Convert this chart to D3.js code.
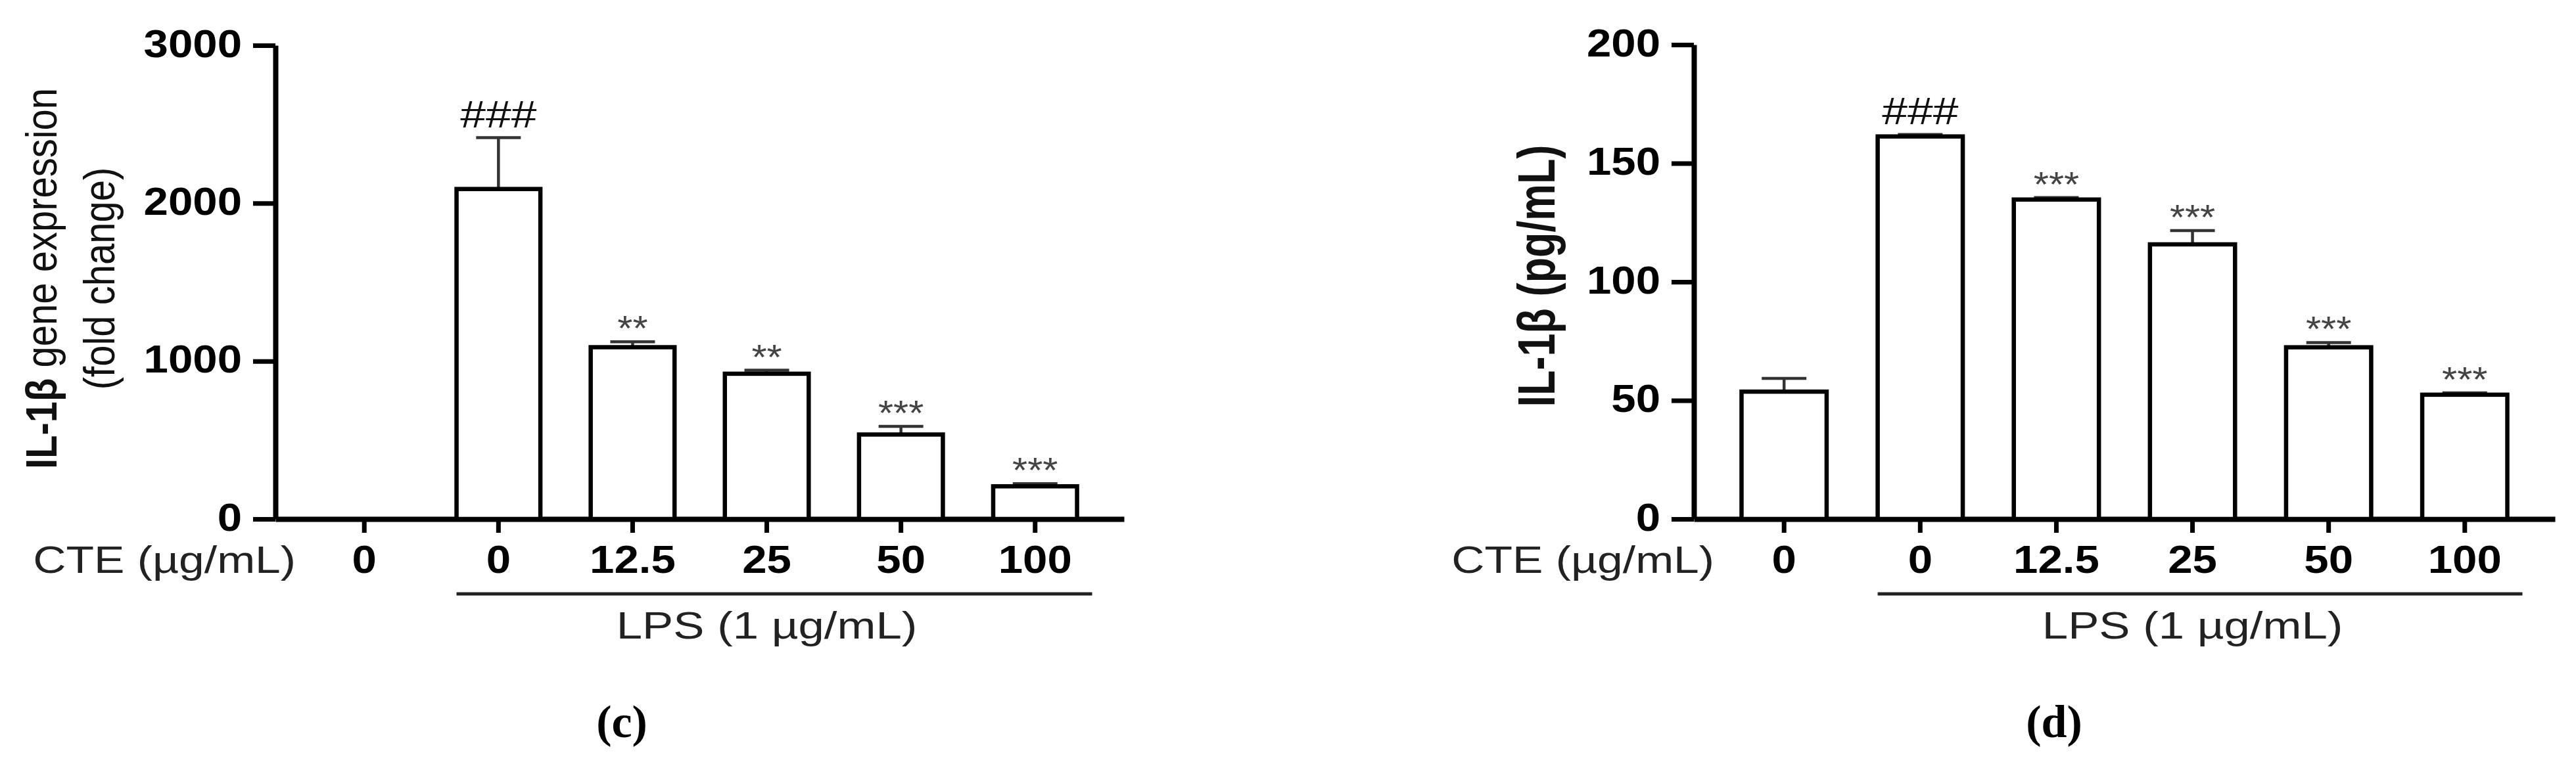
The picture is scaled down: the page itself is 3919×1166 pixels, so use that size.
<!DOCTYPE html>
<html>
<head>
<meta charset="utf-8">
<script src="https://cdn.jsdelivr.net/npm/d3@7"></script>
<style>
  body { margin: 0; background: #fff; }
  svg { display: block; font-family: "Liberation Sans", Arial, sans-serif; }
</style>
</head>
<body>
<svg id="chart" width="3919" height="1166"></svg>
<script>
// Data
var doses = ["0", "0", "12.5", "25", "50", "100"];

var geneMean = [0, 2090, 1088, 920, 535, 207];
var geneErr = [0, 325, 34, 22, 52, 17];
var geneMarks = ["", "###", "**", "**", "***", "***"];
var geneTicks = [0, 1000, 2000, 3000];

var protMean = [53.7, 161.3, 134.7, 115.8, 72.4, 52.4];
var protErr = [5.6, 0.8, 0.8, 5.8, 2.0, 0.8];
var protMarks = ["", "###", "***", "***", "***", "***"];
var protTicks = [0, 50, 100, 150, 200];

var svg = d3.select('#chart');
var base = 790;      // y of the zero line

// the original figure is a bit stretched sideways, so text gets a scaleX
function stretched(sel, x, y, sx) {
  return sel.append('g').attr('transform', 'translate(' + x + ',' + y + ') scale(' + sx + ',1)');
}

function drawPanel(p) {
  var g = svg.append('g');

  var x = d3.scaleBand()
      .domain(d3.range(doses.length))
      .range([p.left, p.right])
      .paddingInner(0.375)
      .paddingOuter(0.35);

  var y = d3.scaleLinear()
      .domain([0, p.max])
      .range([base, p.top]);

  // y axis
  var ya = g.append('g')
      .attr('transform', 'translate(' + p.left + ',0)')
      .call(d3.axisLeft(y).tickValues(p.ticks).tickFormat(d3.format('d'))
        .tickSize(34).tickSizeOuter(0).tickPadding(0));
  ya.select('.domain').attr('stroke', '#000').attr('stroke-width', 8);
  ya.selectAll('.tick line').attr('stroke', '#000').attr('stroke-width', 7);
  ya.selectAll('.tick text')
      .attr('x', null).attr('dy', null)
      .attr('transform', 'translate(-51,17) scale(1.12,1)')
      .attr('text-anchor', 'end')
      .attr('font-family', '"Liberation Sans", Arial, sans-serif')
      .attr('font-size', 60).attr('font-weight', 'bold').attr('fill', '#000');

  // x axis
  var xa = g.append('g')
      .attr('transform', 'translate(0,' + base + ')')
      .call(d3.axisBottom(x).tickFormat(function(i) { return doses[i]; })
        .tickSize(21).tickSizeOuter(0).tickPadding(0));
  xa.select('.domain').attr('stroke', '#000').attr('stroke-width', 8);
  xa.selectAll('.tick line').attr('stroke', '#000').attr('stroke-width', 7);
  xa.selectAll('.tick text')
      .attr('y', null).attr('dy', null)
      .attr('transform', 'translate(0,82) scale(1.12,1)')
      .attr('font-family', '"Liberation Sans", Arial, sans-serif')
      .attr('font-size', 60).attr('font-weight', 'bold').attr('fill', '#000');

  // error bars
  var errG = g.append('g').attr('stroke', '#333').attr('stroke-width', 4.5);
  p.mean.forEach(function(v, i) {
    if (!p.err[i]) return;
    var cx = x(i) + x.bandwidth() / 2;
    errG.append('line').attr('x1', cx).attr('x2', cx).attr('y1', y(v)).attr('y2', y(v + p.err[i]));
    errG.append('line').attr('x1', cx - 34).attr('x2', cx + 34)
        .attr('y1', y(v + p.err[i])).attr('y2', y(v + p.err[i]));
  });

  // bars
  g.selectAll('rect.bar')
      .data(p.mean)
      .enter().append('rect')
      .attr('class', 'bar')
      .attr('x', function(d, i) { return x(i); })
      .attr('width', x.bandwidth())
      .attr('y', function(d) { return y(d); })
      .attr('height', function(d) { return base - y(d); })
      .attr('fill', '#fff')
      .attr('stroke', '#000')
      .attr('stroke-width', 6.5)
      .attr('display', function(d) { return d > 0 ? null : 'none'; });

  // significance marks
  p.marks.forEach(function(m, i) {
    if (!m) return;
    var cx = x(i) + x.bandwidth() / 2;
    var top = y(p.mean[i] + p.err[i]);
    var isHash = m.charAt(0) == '#';
    stretched(g, cx, isHash ? top - 16 : top - 2, isHash ? 1.2 : 1.1)
      .append('text')
      .attr('text-anchor', 'middle')
      .attr('font-size', isHash ? 58 : 54)
      .attr('fill', isHash ? '#111' : '#444')
      .text(m);
  });

  // CTE row label
  stretched(g, p.left + 31, 872, 1.2).append('text')
      .attr('text-anchor', 'end')
      .attr('font-size', 58)
      .attr('fill', '#222')
      .text('CTE (µg/mL)');

  // LPS bracket
  var lx0 = x(1);
  var lx1 = x(doses.length - 1) + x.bandwidth() + 23;
  g.append('line')
      .attr('x1', lx0).attr('x2', lx1)
      .attr('y1', 904).attr('y2', 904)
      .attr('stroke', '#222').attr('stroke-width', 5);
  stretched(g, x(3) + x.bandwidth() / 2, 972, 1.22).append('text')
      .attr('text-anchor', 'middle')
      .attr('font-size', 58)
      .attr('fill', '#222')
      .text('LPS (1 µg/mL)');

  // y title
  p.title.forEach(function(line) {
    var t = stretched(g, line.x, p.titleY, line.sx)
      .append('g').attr('transform', 'rotate(-90)')
      .append('text')
      .attr('text-anchor', 'middle')
      .attr('font-size', line.size)
      .attr('fill', '#111');
    line.parts.forEach(function(part) {
      t.append('tspan').attr('font-weight', part.bold ? 'bold' : 'normal').text(part.text);
    });
  });

  // panel letter
  svg.append('text')
      .attr('x', p.letterX).attr('y', 1122)
      .attr('text-anchor', 'middle')
      .attr('font-family', '"Liberation Serif", "Times New Roman", serif')
      .attr('font-weight', 'bold')
      .attr('font-size', 70)
      .text(p.letter);
}

drawPanel({
  left: 419, right: 1710, top: 69, max: 3000,
  ticks: geneTicks, mean: geneMean, err: geneErr, marks: geneMarks,
  titleY: 424,
  title: [
    {x: 86, sx: 1.15, size: 58, parts: [{text: 'IL-1β', bold: true}, {text: ' gene expression'}]},
    {x: 174, sx: 1.15, size: 58, parts: [{text: '(fold change)'}]}
  ],
  letter: '(c)', letterX: 946
});

drawPanel({
  left: 2577, right: 3887, top: 68, max: 200,
  ticks: protTicks, mean: protMean, err: protErr, marks: protMarks,
  titleY: 420,
  title: [
    {x: 2365, sx: 1.25, size: 63, parts: [{text: 'IL-1β (pg/mL)', bold: true}]}
  ],
  letter: '(d)', letterX: 3125
});
</script>
</body>
</html>
